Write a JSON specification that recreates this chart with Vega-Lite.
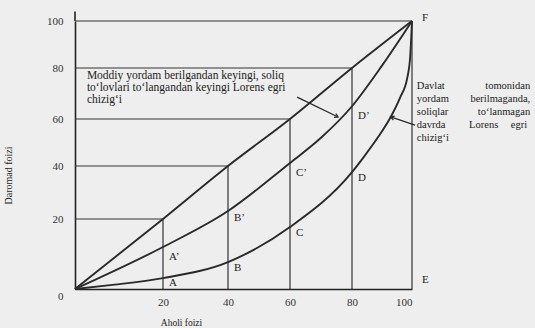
{
  "$schema": "https://vega.github.io/schema/vega-lite/v6.json",
  "width": 337,
  "height": 268,
  "autosize": "none",
  "padding": {"left": 75, "top": 21, "right": 123, "bottom": 39},
  "background": "#eeeeee",
  "config": {
    "view": {"stroke": null},
    "font": "Liberation Serif",
    "text": {"font": "Liberation Serif", "color": "#222222"}
  },
  "datasets": {
    "curves": [
      {"curve": "teng", "x": 0, "y": 0},
      {"curve": "teng", "x": 20, "y": 20},
      {"curve": "teng", "x": 40, "y": 40},
      {"curve": "teng", "x": 60, "y": 60},
      {"curve": "teng", "x": 80, "y": 80},
      {"curve": "teng", "x": 100, "y": 100},
      {"curve": "keyin", "x": 0, "y": 0},
      {"curve": "keyin", "x": 20, "y": 12},
      {"curve": "keyin", "x": 40, "y": 23},
      {"curve": "keyin", "x": 60, "y": 41.3},
      {"curve": "keyin", "x": 70, "y": 52},
      {"curve": "keyin", "x": 80, "y": 65},
      {"curve": "keyin", "x": 90, "y": 81},
      {"curve": "keyin", "x": 100, "y": 100},
      {"curve": "oldin", "x": 0, "y": 0},
      {"curve": "oldin", "x": 8, "y": 1.1},
      {"curve": "oldin", "x": 20, "y": 3.1},
      {"curve": "oldin", "x": 40, "y": 7.7},
      {"curve": "oldin", "x": 60, "y": 17.7},
      {"curve": "oldin", "x": 80, "y": 37.7},
      {"curve": "oldin", "x": 83.9, "y": 43.8},
      {"curve": "oldin", "x": 88.7, "y": 52.3},
      {"curve": "oldin", "x": 92.9, "y": 60.8},
      {"curve": "oldin", "x": 96.1, "y": 68.6},
      {"curve": "oldin", "x": 98.4, "y": 76},
      {"curve": "oldin", "x": 99.4, "y": 85},
      {"curve": "oldin", "x": 100, "y": 100}
    ],
    "grid": [
      {"k": 20, "start": 0},
      {"k": 40, "start": 0},
      {"k": 60, "start": 0},
      {"k": 80, "start": 0},
      {"k": 100, "start": 0}
    ],
    "points": [
      {"label": "A", "x": 20, "y": 1.7},
      {"label": "A’", "x": 20, "y": 9.1},
      {"label": "B", "x": 40, "y": 6},
      {"label": "B’", "x": 40, "y": 20.4},
      {"label": "C", "x": 60, "y": 16},
      {"label": "C’", "x": 60, "y": 37.4},
      {"label": "D", "x": 80, "y": 35.5},
      {"label": "D’", "x": 80, "y": 61.2},
      {"label": "E", "x": 101.3, "y": 2.6},
      {"label": "F", "x": 101.3, "y": 101.3}
    ],
    "note1": [
      {"text": "Moddiy yordam berilgandan keyingi, soliq", "x": 2.7, "y": 76.9},
      {"text": "to‘lovlari to‘langandan keyingi Lorens egri", "x": 2.7, "y": 72.2},
      {"text": "chizig‘i", "x": 2.7, "y": 67.5}
    ],
    "note2left": [
      {"text": "Davlat", "x": 101.6, "y": 72.8},
      {"text": "yordam", "x": 101.6, "y": 67.8},
      {"text": "soliqlar", "x": 101.6, "y": 62.7},
      {"text": "davrda", "x": 101.6, "y": 57.4},
      {"text": "chizig‘i", "x": 101.6, "y": 51.9}
    ],
    "note2right": [
      {"text": "tomonidan", "x": 139.4, "y": 72.8},
      {"text": "berilmaganda,", "x": 139.4, "y": 67.8},
      {"text": "to‘lanmagan", "x": 139.4, "y": 62.7},
      {"text": "egri", "x": 138.4, "y": 57.4}
    ],
    "note2mid": [
      {"text": "Lorens", "x": 123.9, "y": 57.4}
    ],
    "arrows": [
      {"arrow": "1", "x": 62.3, "y": 68.6, "x2": 75.5, "y2": 60.8},
      {"arrow": "2", "x": 101, "y": 57.4, "x2": 92.9, "y2": 60.8}
    ],
    "axisext": [{"x": 0, "y": 100, "y2": 104}]
  },
  "layer": [
    {
      "data": {"name": "grid"},
      "mark": {"type": "rule", "color": "#333333", "strokeWidth": 1.2},
      "encoding": {
        "x": {"field": "start", "type": "quantitative", "scale": {"type": "linear", "domain": [0, 20, 40, 60, 80, 100], "range": [0, 88, 153, 215, 277, 337], "nice": false, "zero": false},
              "axis": {"values": [20, 40, 60, 80, 100], "ticks": false, "grid": false, "domainColor": "#222222", "domainWidth": 1.6, "labelFont": "Liberation Serif", "labelFontSize": 11, "labelColor": "#333333", "labelPadding": 7, "title": "Aholi foizi", "titleFont": "Liberation Serif", "titleFontSize": 9.5, "titleFontWeight": "normal", "titleColor": "#222222", "titleX": 106, "titleY": 28, "titleBaseline": "top"}},
        "x2": {"field": "k"},
        "y": {"field": "k", "type": "quantitative", "scale": {"type": "linear", "domain": [0, 20, 40, 60, 80, 100], "range": [268, 198, 145, 98, 47, 0], "nice": false, "zero": false},
              "axis": {"values": [0, 20, 40, 60, 80, 100], "ticks": false, "grid": false, "domainColor": "#222222", "domainWidth": 1.6, "labelFont": "Liberation Serif", "labelFontSize": 11, "labelColor": "#333333", "labelPadding": 12, "labelOffset": {"condition": {"test": "datum.value === 0", "value": 7}, "value": 0}, "title": "Daromad foizi", "titleFont": "Liberation Serif", "titleFontSize": 10, "titleFontWeight": "normal", "titleColor": "#222222", "titleX": -62, "titleY": 154}}
      }
    },
    {
      "data": {"name": "grid"},
      "mark": {"type": "rule", "color": "#333333", "strokeWidth": 1.2},
      "encoding": {
        "x": {"field": "k", "type": "quantitative"},
        "y": {"field": "start", "type": "quantitative"},
        "y2": {"field": "k"}
      }
    },
    {
      "data": {"name": "axisext"},
      "mark": {"type": "rule", "color": "#222222", "strokeWidth": 1.6},
      "encoding": {
        "x": {"field": "x", "type": "quantitative"},
        "y": {"field": "y", "type": "quantitative"},
        "y2": {"field": "y2"}
      }
    },
    {
      "data": {"name": "curves"},
      "mark": {"type": "line", "interpolate": "monotone", "color": "#2a2a2a", "strokeWidth": 1.9},
      "encoding": {
        "x": {"field": "x", "type": "quantitative"},
        "y": {"field": "y", "type": "quantitative"},
        "detail": {"field": "curve"}
      }
    },
    {
      "data": {"name": "arrows"},
      "mark": {"type": "rule", "color": "#2a2a2a", "strokeWidth": 1.3},
      "encoding": {
        "x": {"field": "x", "type": "quantitative"},
        "y": {"field": "y", "type": "quantitative"},
        "x2": {"field": "x2"},
        "y2": {"field": "y2"}
      }
    },
    {
      "data": {"name": "arrows"},
      "transform": [{"filter": "datum.arrow === '1'"}],
      "mark": {"type": "point", "shape": "M -1 -0.6 L 0 0 L -1 0.6", "filled": false, "stroke": "#2a2a2a", "strokeWidth": 1.3, "size": 50, "angle": 26, "opacity": 1},
      "encoding": {
        "x": {"field": "x2", "type": "quantitative"},
        "y": {"field": "y2", "type": "quantitative"}
      }
    },
    {
      "data": {"name": "arrows"},
      "transform": [{"filter": "datum.arrow === '2'"}],
      "mark": {"type": "point", "shape": "M -1 -0.6 L 0 0 L -1 0.6", "filled": false, "stroke": "#2a2a2a", "strokeWidth": 1.3, "size": 50, "angle": 198, "opacity": 1},
      "encoding": {
        "x": {"field": "x2", "type": "quantitative"},
        "y": {"field": "y2", "type": "quantitative"}
      }
    },
    {
      "data": {"name": "points"},
      "mark": {"type": "text", "align": "left", "baseline": "middle", "dx": 6, "fontSize": 11},
      "encoding": {
        "x": {"field": "x", "type": "quantitative"},
        "y": {"field": "y", "type": "quantitative"},
        "text": {"field": "label"}
      }
    },
    {
      "data": {"name": "note1"},
      "mark": {"type": "text", "align": "left", "baseline": "middle", "fontSize": 11.5},
      "encoding": {
        "x": {"field": "x", "type": "quantitative"},
        "y": {"field": "y", "type": "quantitative"},
        "text": {"field": "text"}
      }
    },
    {
      "data": {"name": "note2left"},
      "mark": {"type": "text", "align": "left", "baseline": "middle", "fontSize": 10.5},
      "encoding": {
        "x": {"field": "x", "type": "quantitative"},
        "y": {"field": "y", "type": "quantitative"},
        "text": {"field": "text"}
      }
    },
    {
      "data": {"name": "note2right"},
      "mark": {"type": "text", "align": "right", "baseline": "middle", "fontSize": 10.5},
      "encoding": {
        "x": {"field": "x", "type": "quantitative"},
        "y": {"field": "y", "type": "quantitative"},
        "text": {"field": "text"}
      }
    },
    {
      "data": {"name": "note2mid"},
      "mark": {"type": "text", "align": "center", "baseline": "middle", "fontSize": 10.5},
      "encoding": {
        "x": {"field": "x", "type": "quantitative"},
        "y": {"field": "y", "type": "quantitative"},
        "text": {"field": "text"}
      }
    }
  ]
}
